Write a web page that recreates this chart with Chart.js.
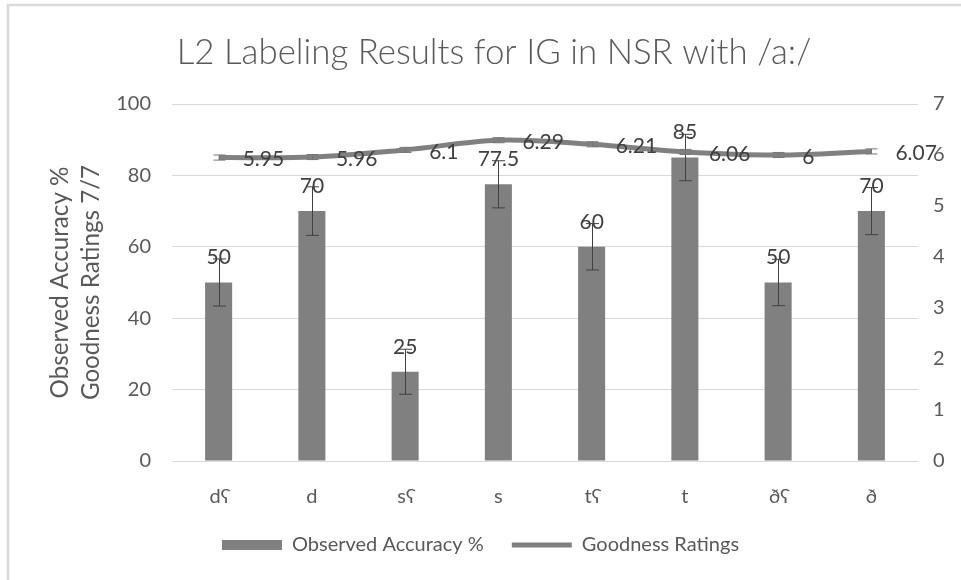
<!DOCTYPE html>
<html>
<head>
<meta charset="utf-8">
<script src="https://cdn.jsdelivr.net/npm/chart.js@4.4.0/dist/chart.umd.min.js"></script>
<style>
  html, body { margin: 0; padding: 0; background: #ffffff; }
  #wrap { width: 961px; height: 580px; position: relative; }
</style>
</head>
<body>
<div id="wrap"><canvas id="c"></canvas></div>
<script>
// ---- data ----
const categories = ['dʕ', 'd', 'sʕ', 's', 'tʕ', 't', 'ðʕ', 'ð'];
const accuracy = [50, 70, 25, 77.5, 60, 85, 50, 70];
const accuracyErr = [6.6, 6.8, 6.3, 6.6, 6.5, 6.5, 6.5, 6.6];
const goodness = [5.95, 5.96, 6.1, 6.29, 6.21, 6.06, 6, 6.07];
const goodnessErr = [0.05, 0.05, 0.05, 0.05, 0.05, 0.05, 0.05, 0.05];
const leftTicks = [0, 20, 40, 60, 80, 100];
const rightTicks = [0, 1, 2, 3, 4, 5, 6, 7];
const titleText = 'L2 Labeling Results for IG in NSR with /a:/';
const yTitleLines = ['Observed Accuracy %', 'Goodness Ratings 7/7'];
const seriesNames = ['Observed Accuracy %', 'Goodness Ratings'];

const FAMILY = "Lato, 'DejaVu Sans', sans-serif";
const TXT = '#595959';
const DARK = '#404040';
const GRAY = '#808080';

function fitSize(text, weight, target) {
  const cv = document.createElement('canvas').getContext('2d');
  cv.font = weight + ' 100px ' + FAMILY;
  return 100 * target / cv.measureText(text).width;
}
const titleSize = fitSize(titleText, '300', 635);
const yTitleSize = fitSize(yTitleLines[0], 'normal', 232);

const extras = {
  id: 'extras',
  beforeDraw(chart) {
    const ctx = chart.ctx;
    ctx.save();
    ctx.fillStyle = '#ffffff';
    ctx.fillRect(0, 0, chart.width, chart.height);
    ctx.strokeStyle = '#d9d9d9';
    ctx.lineWidth = 2.5;
    ctx.beginPath();
    ctx.moveTo(8, 580); ctx.lineTo(8, 5); ctx.lineTo(961, 5);
    ctx.stroke();
    ctx.restore();
  },
  afterDatasetsDraw(chart) {
    const ctx = chart.ctx;
    const y = chart.scales.y, y1 = chart.scales.y1;
    const barMeta = chart.getDatasetMeta(0);
    const lineMeta = chart.getDatasetMeta(1);
    ctx.save();
    // bar labels
    ctx.font = '21px ' + FAMILY;
    ctx.fillStyle = DARK;
    ctx.textAlign = 'center';
    ctx.textBaseline = 'middle';
    barMeta.data.forEach((el, i) => {
      ctx.fillText(String(accuracy[i]), el.x, el.y - 25);
    });
    // bar error bars
    ctx.strokeStyle = DARK;
    ctx.lineWidth = 1;
    barMeta.data.forEach((el, i) => {
      const x = Math.round(el.x) + 0.5;
      const t = y.getPixelForValue(accuracy[i] + accuracyErr[i]);
      const b = y.getPixelForValue(accuracy[i] - accuracyErr[i]);
      ctx.beginPath();
      ctx.moveTo(x, t); ctx.lineTo(x, b);
      ctx.moveTo(x - 6.5, t); ctx.lineTo(x + 6.5, t);
      ctx.moveTo(x - 6.5, b); ctx.lineTo(x + 6.5, b);
      ctx.stroke();
    });
    // line error bars
    ctx.strokeStyle = '#757575';
    lineMeta.data.forEach((el, i) => {
      const x = Math.round(el.x) + 0.5;
      const t = y1.getPixelForValue(goodness[i] + goodnessErr[i]);
      const b = y1.getPixelForValue(goodness[i] - goodnessErr[i]);
      ctx.beginPath();
      ctx.moveTo(x, t); ctx.lineTo(x, b);
      ctx.moveTo(x - 6, t); ctx.lineTo(x + 6, t);
      ctx.moveTo(x - 6, b); ctx.lineTo(x + 6, b);
      ctx.stroke();
    });
    // line labels
    ctx.fillStyle = DARK;
    ctx.textAlign = 'left';
    lineMeta.data.forEach((el, i) => {
      ctx.fillText(String(goodness[i]), el.x + 24, el.y + 2);
    });
    ctx.restore();
  },
  afterDraw(chart) {
    const ctx = chart.ctx;
    ctx.save();
    ctx.fillStyle = TXT;
    ctx.textAlign = 'center';
    ctx.textBaseline = 'middle';
    ctx.font = '300 ' + titleSize + 'px ' + FAMILY;
    ctx.fillText(titleText, 494, 53);
    const area = chart.chartArea;
    const cy = (area.top + area.bottom) / 2;
    ctx.font = yTitleSize + 'px ' + FAMILY;
    [60, 91].forEach((cx, i) => {
      ctx.save();
      ctx.translate(cx, cy);
      ctx.rotate(-Math.PI / 2);
      ctx.fillText(yTitleLines[i], 0, 0);
      ctx.restore();
    });
    ctx.restore();
  }
};

new Chart(document.getElementById('c'), {
  data: {
    labels: categories,
    datasets: [
      {
        type: 'bar',
        label: seriesNames[0],
        data: accuracy,
        yAxisID: 'y',
        backgroundColor: GRAY,
        borderWidth: 0,
        barPercentage: 0.29,
        categoryPercentage: 1,
        pointStyle: 'rect'
      },
      {
        type: 'line',
        label: seriesNames[1],
        data: goodness,
        yAxisID: 'y1',
        borderColor: GRAY,
        backgroundColor: GRAY,
        borderWidth: 5,
        pointRadius: 0,
        pointStyle: 'line',
        tension: 0.35,
        fill: false
      }
    ]
  },
  options: {
    responsive: true,
    maintainAspectRatio: false,
    devicePixelRatio: 1,
    animation: false,
    layout: { padding: { top: 104, left: 0, right: 0, bottom: 15 } },
    plugins: {
      title: { display: false },
      tooltip: { enabled: false },
      legend: {
        display: true,
        position: 'bottom',
        labels: {
          usePointStyle: true,
          pointStyleWidth: 60,
          boxHeight: 10,
          padding: 28,
          color: TXT,
          font: { family: FAMILY, size: 20 },
          sort: (a, b) => a.datasetIndex - b.datasetIndex
        }
      }
    },
    scales: {
      x: {
        grid: { display: false },
        border: { display: false },
        ticks: { color: TXT, font: { family: FAMILY, size: 20 }, padding: 16 },
        afterFit(scale) { scale.height = 580 - 15 - scale.chart.legend.height - 461; }
      },
      y: {
        position: 'left',
        min: 0, max: 100,
        afterBuildTicks(scale) { scale.ticks = leftTicks.map(v => ({ value: v })); },
        grid: { color: '#d9d9d9', lineWidth: 1, drawTicks: false },
        border: { display: false },
        ticks: { color: TXT, font: { family: FAMILY, size: 20 }, padding: 21 },
        afterFit(scale) { scale.width = 172; }
      },
      y1: {
        position: 'right',
        min: 0, max: 7,
        afterBuildTicks(scale) { scale.ticks = rightTicks.map(v => ({ value: v })); },
        grid: { display: false, drawTicks: false },
        border: { display: false },
        ticks: { color: TXT, font: { family: FAMILY, size: 20 }, padding: 15 },
        afterFit(scale) { scale.width = 43; }
      }
    }
  },
  plugins: [extras]
});
</script>
</body>
</html>
